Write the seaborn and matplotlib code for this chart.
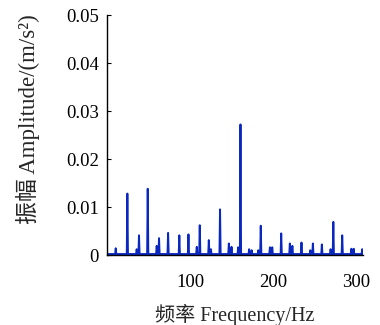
import numpy as np
import pandas as pd
import matplotlib
matplotlib.use("Agg")
import matplotlib.pyplot as plt
import seaborn as sns

# Spectrum peaks
peak_freq = [10.5, 24.5, 35.7, 38.5, 49.0, 59.8, 62.6, 73.5, 87.0, 98.0,
             108.0, 111.6, 122.5, 125.0, 136.0, 146.6, 149.8, 157.8, 160.6,
             171.0, 174.0, 182.0, 185.0, 196.0, 198.8, 209.6, 220.0, 223.0,
             234.0, 244.6, 247.7, 258.5, 269.0, 272.3, 283.0, 294.0, 296.8, 307.0]
peak_amp = [0.0014, 0.0128, 0.0012, 0.0041, 0.0138, 0.0019, 0.0035, 0.0046, 0.0041, 0.0043,
            0.0017, 0.0062, 0.0031, 0.0012, 0.0095, 0.0024, 0.0017, 0.0016, 0.0272,
            0.0012, 0.0010, 0.0010, 0.0061, 0.0016, 0.0016, 0.0045, 0.0024, 0.0019,
            0.0026, 0.0010, 0.0024, 0.0022, 0.0012, 0.0069, 0.0041, 0.0013, 0.0013, 0.0012]
baseline_amp = 0.0002
freq_range = [0.0, 308.0]

x_ticks = [100, 200, 300]
y_ticks = [0, 0.01, 0.02, 0.03, 0.04, 0.05]
y_tick_labels = ["0", "0.01", "0.02", "0.03", "0.04", "0.05"]

# build trace: baseline with narrow peaks
hw = 0.7
xs, ys = [freq_range[0]], [baseline_amp]
for f, a in zip(peak_freq, peak_amp):
    xs += [f - hw, f, f + hw]
    ys += [baseline_amp, a, baseline_amp]
xs.append(freq_range[1]); ys.append(baseline_amp)
df = pd.DataFrame({"freq": xs, "amp": ys, "idx": range(len(xs))})

sns.set_style("white")
plt.rcParams["font.family"] = ["Liberation Serif", "Noto Sans CJK SC"]

fig = plt.figure(figsize=(3.8, 3.25), dpi=100)
ax = fig.add_axes([107/380, 70/325, (363-107)/380, (255-15)/325])
sns.lineplot(data=df, x="freq", y="amp", sort=False, estimator=None,
             color="#0a28c0", linewidth=1.4, ax=ax)

ax.set_xlim(freq_range)
ax.set_ylim(0, 0.05)
ax.set_xticks(x_ticks)
ax.set_xticklabels([str(t) for t in x_ticks])
ax.set_yticks(y_ticks)
ax.set_yticklabels(y_tick_labels)
ax.tick_params(axis="y", direction="in", length=3, width=0.8, left=True,
               labelsize=13.5, pad=6, colors="black")
ax.tick_params(axis="x", length=0, labelsize=13.5, pad=14, colors="black")
for s in ["top", "right"]:
    ax.spines[s].set_visible(False)
for s in ["left", "bottom"]:
    ax.spines[s].set_color("black")
    ax.spines[s].set_linewidth(1.0)
ax.set_xlabel("频率 Frequency/Hz", fontsize=14.5, labelpad=9)
ax.set_ylabel("振幅 Amplitude/(m/s²)", fontsize=16.5)
ax.yaxis.set_label_coords(-0.26, 0.565)
ax.grid(False)

fig.savefig("out.png", dpi=100)
